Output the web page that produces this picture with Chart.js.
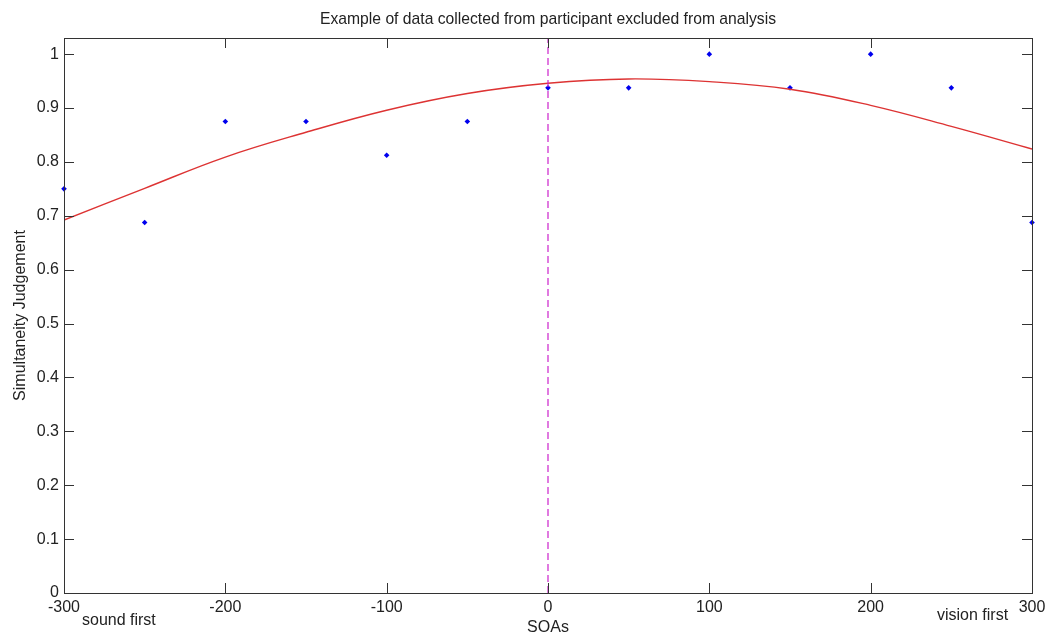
<!DOCTYPE html>
<html>
<head>
<meta charset="utf-8">
<script src="https://cdn.jsdelivr.net/npm/chart.js@4/dist/chart.umd.min.js"></script>
<style>
  html, body { margin: 0; padding: 0; background: #fff; }
  #wrap { width: 1060px; height: 639px; }
</style>
</head>
<body>
<div id="wrap"><canvas id="sjChart"></canvas></div>
<script>
// SOAs (ms) and proportion of "simultaneous" responses
const soas = [-300, -250, -200, -150, -100, -50, 0, 50, 100, 150, 200, 250, 300];
const judgements = [0.75, 0.6875, 0.875, 0.875, 0.8125, 0.875, 0.9375, 0.9375, 1.0, 0.9375, 1.0, 0.9375, 0.6875];

// fitted curve, read at the same SOAs
const fitX = [-300, -250, -200, -150, -100, -50, 0, 50, 100, 150, 200, 250, 300];
const fitY = [0.692, 0.751, 0.809, 0.855, 0.896, 0.927, 0.946, 0.954, 0.949, 0.935, 0.905, 0.866, 0.824];

// vertical marker at SOA 0
const markerX = [0, 0];
const markerY = [0, 1.03];

const xTicks = [-300, -200, -100, 0, 100, 200, 300];
const yTicks = [0, 0.1, 0.2, 0.3, 0.4, 0.5, 0.6, 0.7, 0.8, 0.9, 1];

const FONT = '"Liberation Sans", Arial, sans-serif';

// MATLAB-style box with inward ticks, plus title / axis labels
const axesBox = {
    id: 'axesBox',
    afterDatasetsDraw(chart) {
        const ctx = chart.ctx;
        const a = chart.chartArea;
        const xs = chart.scales.x, ys = chart.scales.y;
        ctx.save();
        ctx.strokeStyle = '#333';
        ctx.lineWidth = 1;
        ctx.strokeRect(a.left + 0.5, a.top + 0.5, a.right - a.left, a.bottom - a.top);
        ctx.beginPath();
        xTicks.forEach(v => {
            const px = Math.round(xs.getPixelForValue(v)) + 0.5;
            ctx.moveTo(px, a.bottom); ctx.lineTo(px, a.bottom - 10);
            ctx.moveTo(px, a.top); ctx.lineTo(px, a.top + 10);
        });
        yTicks.forEach(v => {
            const py = Math.round(ys.getPixelForValue(v)) + 0.5;
            ctx.moveTo(a.left, py); ctx.lineTo(a.left + 10, py);
            ctx.moveTo(a.right, py); ctx.lineTo(a.right - 10, py);
        });
        ctx.stroke();

        ctx.fillStyle = '#222';
        ctx.textAlign = 'center';
        ctx.textBaseline = 'middle';
        const cx = (a.left + a.right) / 2;
        ctx.font = '15.7px ' + FONT;
        ctx.fillText('Example of data collected from participant excluded from analysis', cx, 20);
        ctx.font = '16px ' + FONT;
        ctx.fillText('SOAs', cx, 628);
        ctx.textAlign = 'left';
        ctx.fillText('sound first', 82, 621);
        ctx.fillText('vision first', 937, 616);
        ctx.translate(21, (a.top + a.bottom) / 2);
        ctx.rotate(-Math.PI / 2);
        ctx.textAlign = 'center';
        ctx.fillText('Simultaneity Judgement', 0, 0);
        ctx.restore();
    }
};

new Chart(document.getElementById('sjChart'), {
    type: 'scatter',
    data: {
        datasets: [
            {
                label: 'SOA 0',
                data: markerX.map((x, i) => ({ x: x, y: markerY[i] })),
                showLine: true,
                borderColor: '#cc22cc',
                borderWidth: 1.2,
                borderDash: [7, 4],
                pointRadius: 0
            },
            {
                label: 'fit',
                data: fitX.map((x, i) => ({ x: x, y: fitY[i] })),
                showLine: true,
                borderColor: '#dd3333',
                borderWidth: 1.4,
                tension: 0.4,
                pointRadius: 0
            },
            {
                label: 'responses',
                data: soas.map((x, i) => ({ x: x, y: judgements[i] })),
                pointStyle: 'rectRot',
                pointRadius: 2.8,
                backgroundColor: '#0000ee',
                borderColor: '#0000ee',
                borderWidth: 0,
                clip: false
            }
        ]
    },
    options: {
        responsive: true,
        maintainAspectRatio: false,
        animation: false,
        layout: { padding: { left: 0, top: 38, right: 28, bottom: 0 } },
        plugins: {
            legend: { display: false },
            tooltip: { enabled: false }
        },
        scales: {
            x: {
                type: 'linear',
                min: -300,
                max: 300,
                afterFit: s => { s.height = 46; },
                afterBuildTicks: s => { s.ticks = xTicks.map(v => ({ value: v })); },
                grid: { display: false, drawTicks: false },
                border: { display: false },
                ticks: {
                    autoSkip: false,
                    maxRotation: 0,
                    padding: 5,
                    color: '#222',
                    font: { family: FONT, size: 16 }
                }
            },
            y: {
                min: 0,
                max: 1.03,
                afterFit: s => { s.width = 64; },
                afterBuildTicks: s => { s.ticks = yTicks.map(v => ({ value: v })); },
                grid: { display: false, drawTicks: false },
                border: { display: false },
                ticks: {
                    padding: 5,
                    color: '#222',
                    font: { family: FONT, size: 16 },
                    callback: v => String(Number(v.toFixed(1)))
                }
            }
        }
    },
    plugins: [axesBox]
});
</script>
</body>
</html>
